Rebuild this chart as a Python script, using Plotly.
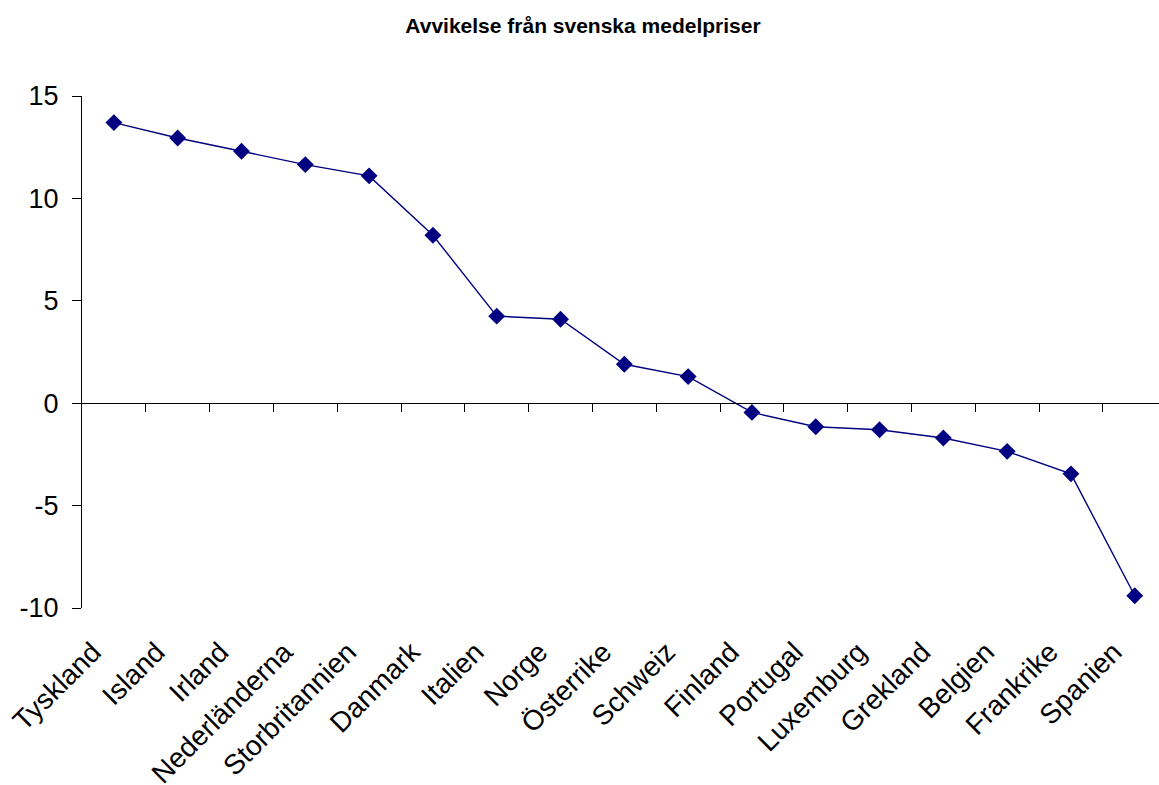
import plotly.graph_objects as go

countries = ["Tyskland", "Island", "Irland", "Nederländerna", "Storbritannien",
             "Danmark", "Italien", "Norge", "Österrike", "Schweiz", "Finland",
             "Portugal", "Luxemburg", "Grekland", "Belgien", "Frankrike", "Spanien"]
values = [13.7, 12.95, 12.3, 11.65, 11.1, 8.2, 4.25, 4.1, 1.9, 1.3, -0.45,
          -1.15, -1.3, -1.7, -2.35, -3.45, -9.4]
title = "Avvikelse från svenska medelpriser"
y_ticks = [-10, -5, 0, 5, 10, 15]
y_tick_text = ["-10", "-5", "0", "5", "10", "15"]

W, H = 1159, 785
L, R, T, B = 82, 0, 96, 177
x_range = [-0.5, 16.38]
label_shift = 0.33
y_range = [-10, 15]
zero_pos = (0 - y_range[0]) / (y_range[1] - y_range[0])
FONT = "Liberation Sans, Arial, sans-serif"

idx = list(range(len(countries)))

fig = go.Figure()
fig.add_trace(go.Scatter(
    x=idx, y=values, mode="lines+markers",
    line=dict(color="#000080", width=1.4),
    marker=dict(symbol="diamond", size=13, color="#000080"),
    hoverinfo="skip", showlegend=False, cliponaxis=False,
))
# invisible trace to activate the label axis
fig.add_trace(go.Scatter(x=idx, y=values, xaxis="x2", mode="markers",
                         marker=dict(opacity=0), hoverinfo="skip", showlegend=False))

fig.update_layout(
    width=W, height=H,
    margin=dict(l=L, r=R, t=T, b=B, pad=0, autoexpand=False),
    paper_bgcolor="white", plot_bgcolor="white",
    font=dict(family=FONT, color="black"),
    title=dict(text="<b>" + title + "</b>", x=0.503, xanchor="center",
               y=1 - 26 / H, yanchor="middle",
               font=dict(size=21, family=FONT, color="black")),
    xaxis=dict(
        range=x_range, anchor="free", position=zero_pos, automargin=False,
        showline=True, linecolor="black", linewidth=1,
        tickmode="array", tickvals=[i + 0.5 for i in idx[:-1]],
        ticks="outside", ticklen=8, tickcolor="black", tickwidth=1,
        showticklabels=False, showgrid=False, zeroline=False,
    ),
    xaxis2=dict(
        range=[x_range[0] + label_shift, x_range[1] + label_shift],
        overlaying="x", side="bottom", anchor="y", automargin=False,
        showline=False, ticks="", showgrid=False, zeroline=False,
        tickmode="array", tickvals=idx, ticktext=countries,
        tickangle=-45, tickfont=dict(size=28, family=FONT),
        ticklabelstandoff=21,
    ),
    yaxis=dict(
        range=y_range, tickmode="array", tickvals=y_ticks, ticktext=y_tick_text,
        showline=True, linecolor="black", linewidth=1, automargin=False,
        ticks="outside", ticklen=9, tickcolor="black", tickwidth=1,
        tickfont=dict(size=27, family=FONT),
        showgrid=False, zeroline=False, ticklabelstandoff=8,
    ),
)

fig.write_html("out.html", config={"displayModeBar": False},
               post_script="document.body.style.margin='0';")
